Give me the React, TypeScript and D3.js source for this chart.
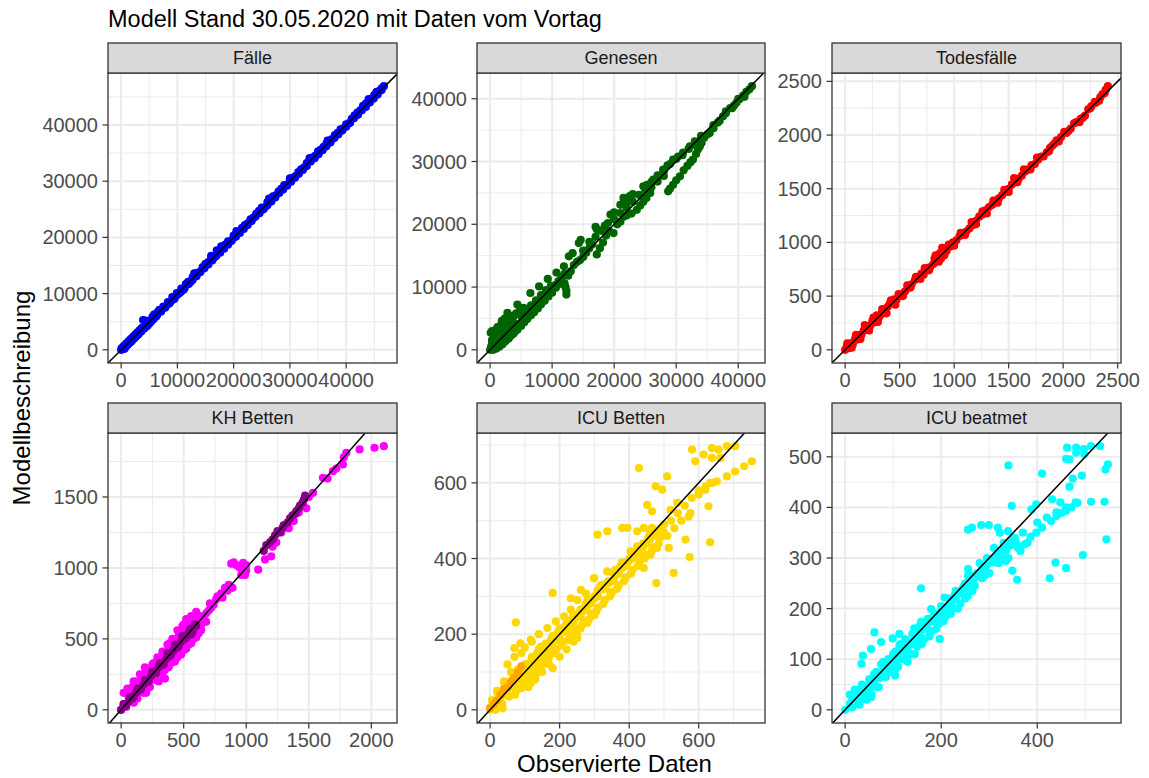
import React from 'react';
import * as d3 from 'd3';

// ---------- DATA ----------
const titleText = 'Modell Stand 30.05.2020 mit Daten vom Vortag';
const xAxisTitle = 'Observierte Daten';
const yAxisTitle = 'Modellbeschreibung';

const faelle: [number, number][] = [
  [0,0],[100,300],[300,100],[500,700],[700,400],[900,1100],[1100,800],[1300,1500],[1500,1200],[1700,1900],[1900,1600],[2100,2300],[2300,2000],[2500,2700],[2700,2400],[2900,3100],[3100,2800],[3300,3500],[3500,3200],[3700,3900],[3900,5300],[4200,5200],[4100,3800],[4400,4600],[4700,4300],[5000,5200],[5300,5000],[5600,5900],[5900,6300],[6200,5900],[6500,6700],[6800,7100],[7100,6800],[7500,7700],[7900,7600],[8300,8500],[8700,8400],[9100,9400],[9500,9100],[9900,10100],[10300,10000],[10700,10900],[11100,10700],[11500,11700],[11900,12100],[12300,12000],[12700,12900],[13100,13300],[13500,13700],[14000,13800],[14500,14700],[15000,15300],[15500,15600],[16000,16200],[16500,16400],[17000,17700],[17500,17400],[18000,18100],[18500,18700],[19000,19300],[19500,19300],[20000,20300],[20500,20800],[21000,21000],[21500,21700],[22000,22200],[22500,22500],[23000,23200],[23500,23500],[24000,24200],[24500,24700],[25000,25300],[25500,25300],[26000,26300],[26500,26400],[27000,27300],[27500,27500],[28000,28200],[28500,28700],[29000,29300],[29500,29400],[30000,30200],[30500,30600],[31000,30900],[31500,31600],[32000,32100],[32500,32400],[33000,33200],[33500,33700],[34000,34200],[34500,34500],[35000,35300],[35500,35600],[36000,36100],[36500,36700],[37000,37200],[37500,37500],[38000,38200],[38500,38600],[39000,39200],[39500,39400],[40000,40100],[40500,40300],[41000,41100],[41500,41700],[42000,42200],[42500,42600],[43000,43400],[43500,43800],[44000,44200],[44500,44700],[45000,45300],[45500,45700],[46000,46100],[46300,46500],[46700,46900],
  [600,200],[1200,1000],[1800,1500],[2400,2100],[3000,2700],[3600,3300],[4300,4000],[5000,4700],[5700,5400],[6400,6200],[7100,6900],[7800,7500],[8500,8200],[9200,8900],[9900,9700],[10600,10300],[11300,11000],[12000,11700],[12700,12400],[13400,13100],[14100,13900],[14800,14500],[15500,15200],[16200,15900],[16900,16700],[17600,17300],[18300,18000],[19000,18700],[19700,19500],[20400,20100],[21100,20800],[21800,21500],[22500,22200],[23200,22900],[23900,23700],[24600,24300],[25300,25000],[26000,25700],[26700,26400],[27400,27100],[28100,27900],[28800,28500],[29500,29200],[30200,29900],[30900,30600],[31600,31300],[32300,32000],[33000,32700],[33700,33500],[34400,34100],[35100,34800],[35800,35500],[36500,36200],[37200,36900],[37900,37700],[38600,38300],[39300,39000],[40000,39700],[40700,40400],[41400,41200],[42100,41800],[42800,42600],[43500,43200],[44200,44000],[44900,44700],[45600,45400],[46300,46200],
  [13000,13600],[16000,16700],[17800,18400],[20500,21100],[26300,26900],[30000,30500],[33500,34100],[36700,37200],[44000,44600],[45400,45900]
];

const genesen: [number, number][] = [
  [0,0],[200,400],[400,200],[600,900],[800,500],[1000,1300],[1200,800],[1400,1700],[1600,1100],[1800,2100],[2000,1500],[2200,2500],[2500,1900],[2800,2700],[3000,2300],[3300,3100],[3600,2800],[3900,3600],[4200,3300],[4500,4100],[4800,3900],[5200,4700],[5600,5000],[6000,5600],[6400,6000],[6800,6500],[7200,6900],[7600,7400],[8000,7800],[8500,8300],[9000,8800],[9500,9300],[10000,9700],
  [100,2700],[300,3000],[600,2600],[900,3200],[1200,3600],[1500,3000],[1800,4000],[2200,3700],[2600,4300],[2800,5900],[3200,5200],[3600,4700],[4200,5800],[4400,7200],[4800,6200],[5400,6700],[6500,9050],[7900,10100],[9300,11300],[10700,12300],[11900,13300],[12700,14900],[13300,15400],[14300,17000],[14600,17500],
  [500,0],[1000,200],[1500,500],[2000,900],[2500,1400],[3000,1800],[3500,2400],[4000,2900],
  [11500,11200],[12000,10600],[12150,10000],[12300,9400],[12300,8800],[12600,11800],[13000,12500],
  [10500,10300],[11000,10900],[11500,11600],[12000,12100],[13500,13500],[14000,14000],[14500,14300],[15000,14800],[15500,15500],[16000,16200],[16500,16800],
  [17200,19200],[17000,19600],[17800,19000],[18500,19800],[19400,21550],[20000,21900],[21000,23100],[21500,24200],[22000,23400],[22500,24500],[23000,24800],
  [17200,15200],[17700,16200],[18200,17100],[18700,18200],[19200,18900],[19900,18600],[20500,20000],[21000,20400],[21500,21200],[22000,21400],[22800,21700],[23650,22300],[24200,23000],[24700,23600],[25200,24200],[25800,25000],
  [24700,26050],[25300,26300],[26300,27100],[27000,27800],[27900,28700],[28600,29400],[29500,30300],[30300,30800],[31100,31400],[32200,32400],[33000,33200],[34000,34100],
  [28700,25250],[29000,25700],[29500,26300],[30000,27000],[30600,27650],[31200,28600],[31800,29300],[32300,29900],[32700,30300],[33200,31200],[33500,31900],[33800,32400],[34100,33000],
  [26000,25900],[27000,26800],[28000,27700],
  [34500,33800],[35400,34560],[36000,35300],[36700,36200],[37550,37200],[38000,37700],[38700,38500],[39300,38900],[39700,39350],[40200,39900],[40800,40500],[41300,41100],[41800,41500],[42200,42000],
  [300,1500],[700,2000],[1100,2300],[1500,2600],[2000,3000],[2400,3300],[3000,3800],[3400,4200],[400,1000],[900,1600],[1300,2000],[200,600],[700,300],[1100,600],[1700,900],[2300,1300],[2700,1700],[3300,2200],[3800,2600],[4400,3200],[5000,3800],[5500,4400],[6000,4900],[6600,5500],[7100,6000],[7700,6600],[8200,7200],[8800,7800],[9400,8500],[10000,9100],[10600,9900],[11200,10500],[5000,5400],[5800,6300],[6600,7100],[7400,7900],[8200,8700],[9000,9500],[9800,10200],[3100,4900],[3800,5400],[5000,6500],[1900,4600],[2400,5000],
  [15000,15800],[16000,17200],[17000,18000],[18000,19000],[19000,20200],[20000,20800],[21000,21800],[22000,22600],[23000,23600],[24000,24700],[25000,25500],[26000,26700],[27000,27400],[28000,28500],[29000,29600],[30000,30400],[31000,31000],[32000,32000],[33000,32700],[34000,33600],[35000,34300],[36000,35800],[37000,36500],[38000,38000],[39000,38500],[40000,40000],[41000,40300]
];

const todesfaelle: [number, number][] = [
  [0,0],[15,30],[30,15],[50,60],[70,50],[90,100],[110,95],[130,140],[150,140],[170,180],[190,185],[210,220],[230,225],[250,270],[270,255],[290,320],[310,300],[330,330],[350,360],[370,365],[390,400],[410,430],[430,440],[450,470],[470,465],[500,500],[520,520],[550,545],[580,580],[610,610],[640,650],[670,680],[700,710],[720,700],[750,760],[780,770],[810,800],[830,880],[850,840],[870,900],[880,850],[900,900],[930,920],[960,960],[990,1000],[1020,1020],[1050,1060],[1080,1080],[1110,1100],[1140,1130],[1170,1160],[1200,1200],[1230,1240],[1260,1260],[1290,1300],[1320,1330],[1350,1350],[1380,1390],[1410,1410],[1440,1440],[1470,1470],[1500,1500],[1530,1540],[1560,1590],[1590,1590],[1620,1620],[1650,1660],[1680,1680],[1710,1720],[1740,1730],[1770,1770],[1800,1800],[1850,1840],[1880,1880],[1900,1900],[1940,1950],[1980,1980],[2030,2020],[2070,2060],[2120,2120],[2160,2150],[2200,2180],[2230,2240],[2260,2270],[2300,2300],[2330,2320],[2360,2380],[2390,2420],[2410,2455],
  [20,60],[60,20],[100,140],[140,100],[180,230],[220,180],[260,300],[300,260],[340,380],[380,340],[420,460],[460,420],[490,520],[530,500],[570,600],[600,580],[650,680],[690,660],[730,760],[770,740],[820,850],[860,820],[890,950],[910,880],[950,980],[1000,970],[1060,1090],[1100,1070],[1160,1190],[1200,1170],[1260,1290],[1300,1270],[1360,1390],[1400,1370],[1460,1490],[1500,1470],[1550,1600],[1580,1560],[1640,1680],[1700,1680],[1760,1790],[1820,1800],[1870,1850],[1920,1920],[1960,1940],[2010,2030],[2050,2040],[2100,2110],[2150,2120],[2180,2160],[2250,2250],[2290,2310],[2340,2350],[2380,2390]
];

const khBetten: [number, number][] = [
  [0,0],[20,40],[40,20],[60,90],[80,60],[100,130],[120,100],[140,170],[160,130],[180,210],[200,170],[220,260],[240,210],[250,290],[270,240],[290,310],[310,270],[330,340],[350,300],[360,380],[380,330],[390,470],[400,410],[420,360],[440,480],[450,400],[470,540],[480,440],[500,560],[510,460],[530,530],[550,590],[560,510],[580,610],[600,550],[610,640],[620,580],[630,660],[650,620],[680,680],[710,750],[740,740],[760,780],[800,820],[830,860],[850,840],[880,1030],[900,1040],[920,1020],[950,1000],[975,1035],[960,950],[990,950],[1000,980],[1095,988],[1150,1060],[1200,1082],[1210,1150],[1240,1180],[1280,1250],[1300,1300],[1340,1280],[1380,1330],[1420,1390],[1450,1450],[1480,1420],[1500,1500],[1534,1529],[1613,1635],[1650,1630],[1693,1682],[1720,1700],[1773,1729],[1780,1780],[1800,1811],[1906,1835],[2025,1847],[2100,1858],
  [20,120],[50,150],[100,200],[150,250],[190,300],[100,50],[200,120],[300,200],[350,220],
  [150,200],[200,250],[250,320],[300,350],[340,400],[380,440],[420,460],[460,520],[500,600],[540,620],[570,640],[300,240],[350,280],[400,330],[450,370],[500,420],[540,460],[580,500],[620,540],[640,600],[660,640],[700,700],[720,720],[770,800],[810,790],[860,880],[890,860],[940,1010],[1000,1020],
  [60,120],[90,160],[130,200],[170,250],[210,290],[260,330],[290,370],[330,410],[370,460],[410,500],[450,560],[490,590],[520,640],[560,660],[600,690],[130,80],[180,120],[230,160],[280,210],[330,250],[380,300],[430,340],[480,390],[520,430],[560,470],[600,510],[640,560],[680,620]
];
const khBettenB: [number, number][] = [
  [0,0],[30,30],[60,60],[90,80],[120,120],[150,140],[180,180],[210,200],[240,240],[270,260],[300,300],[330,320],[360,360],[390,380],[420,420],[450,440],[480,480],[510,500],[540,540],[560,530],[580,580],[600,590],[1140,1120],[1190,1180],[1230,1230],[1270,1250],[1300,1300],[1330,1320],[1370,1370],[1400,1400],[1430,1440],[1460,1480],[1470,1510],
  [20,40],[40,30],[70,90],[100,90],[130,150],[160,150],[190,210],[220,200],[250,270],[280,260],[310,330],[340,320],[370,400],[400,390],[430,460],[460,450],[490,520],[520,510],[550,570],[570,550],[590,600],[1160,1160],[1210,1200],[1250,1260],[1290,1280],[1350,1350],[1390,1380],[1420,1420],[1450,1460]
];

const icuBetten: [number, number][] = [
  [0,0],[10,8],[20,20],[30,25],[40,40],[50,42],[60,60],[70,65],[80,80],[90,85],[100,100],[110,102],[120,118],[130,122],[140,138],[150,142],[160,155],[170,165],[180,172],[190,185],[200,190],[210,205],[220,210],[230,222],[240,230],[250,245],[260,250],[270,262],[280,275],[290,282],[300,295],[310,300],[320,318],[330,320],[340,335],[350,340],[360,355],[370,360],[380,375],[390,380],[400,395],[410,400],[420,410],[430,420],[440,430],[450,440],[460,450],[470,460],[480,470],[490,480],[500,490],
  [581,688],[590,657],[614,675],[638,692],[657,688],[638,666],[662,666],[681,697],[705,697],[753,657],[731,644],[705,630],[681,617],[652,604],[633,600],[619,582],[600,569],[628,538],[576,520],[571,511],[633,443],[574,404],[528,362],[478,335],[562,450],[519,529],[538,547],[509,617],[495,582],[476,591],[452,542],[466,525],[428,639],
  [309,463],[337,472],[380,481],[395,481],[423,472],[442,481],[466,481],[495,458],[514,428],[480,428],[461,410],[442,405],[423,432],[404,419],[442,375],[385,379],[366,370],[337,366],[299,348],[356,341],[328,324],[309,315],[347,311],[276,307],[261,317],[232,295],[251,290],[180,309],
  [270,269],[232,265],[213,247],[189,234],[165,216],[251,190],[232,206],[210,215],[195,200],[74,231],[87,176],[70,163],[117,185],[146,167],[165,150],[136,141],[108,115],[80,106],[89,57],[72,40],[36,4],[5,26],[22,44],[41,71],[117,71],[136,97],[160,130],[180,150],[150,120],
  [100,120],[110,85],[120,140],[130,105],[140,160],[150,125],[160,175],[170,140],[180,195],[190,160],[200,215],[210,180],[220,230],[230,195],[240,250],[250,215],[260,265],[270,235],[280,290],[290,255],[300,300],[310,270],[320,330],[330,290],[340,340],[350,310],[360,370],[370,330],[380,390],[390,350],[400,400],[410,370],[420,420],[430,390],[440,440],[450,410],[460,470],[470,430],[480,460],[500,470],[520,500],[540,520],[560,540],[580,560],[600,580],[620,590],[640,600],
  [5,10],[15,0],[25,40],[35,15],[45,60],[55,35],[65,80],[75,50],[85,95],[95,70],[20,50],[40,75],[60,100],[50,120],[70,140],[90,150],[100,165],[120,180],[140,200],[110,60],[130,80],[150,100],[170,120],[180,110],[200,140],[220,160],[240,180],[250,200],[260,215],[280,230],[300,250],
  [105,110],[115,125],[125,100],[135,150],[145,115],[155,165],[165,130],[175,185],[185,150],[195,205],[205,170],[215,220],[225,185],[235,240],[245,205],[255,255],[265,225],[275,280],[285,240],[295,290],[305,260],[315,325],[325,280],[335,335],[345,300],[355,360],[365,320],[375,380],[385,340],[395,390],[405,360],[415,410],[425,380],[435,430],[445,400],[455,455],[465,420],[475,470],[485,440],[495,480],[510,460],[530,480],[550,500]
];
const icuBettenB: [number, number][] = [
  [0,5],[10,15],[20,25],[30,40],[40,55],[50,60],[60,75],[70,85],[80,100],[90,115]
];

const icuBeatmet: [number, number][] = [
  [0,0],[10,12],[20,15],[25,30],[35,28],[45,45],[50,38],[60,58],[70,62],[80,78],[90,82],[100,98],[110,100],[120,118],[130,120],[140,135],[150,140],[160,158],[170,160],[180,175],[190,180],[200,195],[210,198],[220,215],[230,218],[240,230],[250,240],[260,255],[270,262],[280,270],[290,280],[300,290],[310,300],[320,310],[330,320],[340,330],[350,335],
  [462,518],[481,518],[481,508],[497,515],[498,505],[512,521],[531,521],[460,496],[467,495],[547,485],[542,475],[340,483],[410,467],[493,463],[474,457],[467,441],[347,403],[398,406],[388,396],[431,416],[448,410],[512,411],[540,411],[484,409],[471,400],[460,393],[450,389],[440,383],[429,373],[410,360],[398,350],[386,342],[374,327],[360,324],[353,340],[365,314],[256,356],[264,360],[283,365],[299,365],[318,360],[322,350],[339,353],[544,337],[495,306],[438,291],[460,280],[426,260],[348,275],[358,257],[335,294],[325,307],[311,291],[294,285],[276,268],[256,278],[256,265],[266,252],[248,246],[238,232],[228,226],[207,222],[221,209],[204,201],[179,199],[189,188],[197,140],[158,240],[172,180],[158,174],[144,161],
  [61,153],[75,134],[54,120],[37,107],[34,91],[113,150],[99,141],[113,127],[131,107],[104,68],[85,87],[67,73],[54,54],[54,25],[30,14],
  [10,30],[15,5],[20,40],[30,10],[35,50],[40,25],[50,60],[55,30],[65,75],[70,45],[75,90],[85,65],[90,100],[95,75],[105,115],[110,85],[115,130],[120,100],[125,140],[135,110],[140,150],[150,125],[155,165],[165,140],[170,175],[180,155],[185,190],[195,170],[200,205],[210,185],[215,220],[225,200],[230,235],[240,210],[250,250],[255,225],[265,265],[270,245],[280,290],[285,260],[295,300],[300,270],[310,320],[320,290],[330,330],[340,300],[350,340],[360,320],[370,350],[380,330],[400,370],[420,380],[440,390],[460,400],[480,410],
  [15,20],[25,15],[30,40],[40,35],[45,20],[55,50],[60,70],[65,45],[75,65],[80,95],[85,75],[95,90],[100,110],[105,80],[115,105],[125,125],[130,95],[140,130],[145,110],[155,150],[160,130],[170,165],[175,145],[185,175],[190,160],[200,190],[205,175],[215,205],[220,190],[230,225],[235,200],[245,240],[250,220],[260,250],[265,235],[275,270],[285,280],[290,265],[305,295],[315,305],[325,300],[335,315],[345,325],[355,330]
];

const faelleTicks = [0, 10000, 20000, 30000, 40000];
const todesTicks = [0, 500, 1000, 1500, 2000, 2500];
const khXTicks = [0, 500, 1000, 1500, 2000];
const khYTicks = [0, 500, 1000, 1500];
const icuTicks = [0, 200, 400, 600];
const beatXTicks = [0, 200, 400];
const beatYTicks = [0, 100, 200, 300, 400, 500];

// ---------- LAYOUT ----------
const FONT = "'Liberation Sans', Arial, Helvetica, sans-serif";
const colLeft = [108, 477, 832];
const colRight = [397, 765, 1121];
const rowTop = [43, 403];
const stripH = 30;
const panelH = 290;

type Series = { data: [number, number][]; color: string };
type Panel = { name: string; col: number; row: number; series: Series[]; xTicks: number[]; yTicks: number[] };

const panels: Panel[] = [
  { name: 'Fälle', col: 0, row: 0, series: [{ data: faelle, color: '#0000FF' }], xTicks: faelleTicks, yTicks: faelleTicks },
  { name: 'Genesen', col: 1, row: 0, series: [{ data: genesen, color: '#006400' }], xTicks: faelleTicks, yTicks: faelleTicks },
  { name: 'Todesfälle', col: 2, row: 0, series: [{ data: todesfaelle, color: '#FF0000' }], xTicks: todesTicks, yTicks: todesTicks },
  { name: 'KH Betten', col: 0, row: 1, series: [{ data: khBetten, color: '#FF00FF' }, { data: khBettenB, color: '#8B008B' }], xTicks: khXTicks, yTicks: khYTicks },
  { name: 'ICU Betten', col: 1, row: 1, series: [{ data: icuBetten, color: '#FFD700' }, { data: icuBettenB, color: '#FFA500' }], xTicks: icuTicks, yTicks: icuTicks },
  { name: 'ICU beatmet', col: 2, row: 1, series: [{ data: icuBeatmet, color: '#00FFFF' }], xTicks: beatXTicks, yTicks: beatYTicks },
];

function expandDomain(vals: number[]): [number, number] {
  const [lo, hi] = d3.extent(vals) as [number, number];
  const pad = (hi - lo) * 0.05;
  return [lo - pad, hi + pad];
}

function minorBreaks(ticks: number[], domain: [number, number]) {
  const step = ticks[1] - ticks[0];
  const res: number[] = [];
  for (let i = -1; i < ticks.length; i++) {
    const v = ticks[0] + step * i + step / 2;
    if (v >= domain[0] && v <= domain[1]) res.push(v);
  }
  return res;
}

function PanelView({ p }: { p: Panel }) {
  const left = colLeft[p.col];
  const right = colRight[p.col];
  const sTop = rowTop[p.row];
  const top = sTop + stripH;
  const bottom = top + panelH;
  const all = p.series.flatMap((s) => s.data);
  const xd = expandDomain(all.map((d) => d[0]));
  const yd = expandDomain(all.map((d) => d[1]));
  const x = d3.scaleLinear().domain(xd).range([left, right]);
  const y = d3.scaleLinear().domain(yd).range([bottom, top]);
  const xMinor = minorBreaks(p.xTicks, xd);
  const yMinor = minorBreaks(p.yTicks, yd);
  const xMajor = p.xTicks.filter((t) => t >= xd[0] && t <= xd[1]);
  const yMajor = p.yTicks.filter((t) => t >= yd[0] && t <= yd[1]);
  const clipId = `clip-${p.col}-${p.row}`;
  const lo = Math.min(xd[0], yd[0]);
  const hi = Math.max(xd[1], yd[1]);
  const tickLen = 5.5;
  return (
    <g>
      <defs>
        <clipPath id={clipId}>
          <rect x={left} y={top} width={right - left} height={bottom - top} />
        </clipPath>
      </defs>
      <rect x={left} y={top} width={right - left} height={bottom - top} fill="#FFFFFF" />
      {xMinor.map((v) => (
        <line key={'xm' + v} x1={x(v)} x2={x(v)} y1={top} y2={bottom} stroke="#EBEBEB" strokeWidth={1} />
      ))}
      {yMinor.map((v) => (
        <line key={'ym' + v} x1={left} x2={right} y1={y(v)} y2={y(v)} stroke="#EBEBEB" strokeWidth={1} />
      ))}
      {xMajor.map((v) => (
        <line key={'xM' + v} x1={x(v)} x2={x(v)} y1={top} y2={bottom} stroke="#EBEBEB" strokeWidth={2} />
      ))}
      {yMajor.map((v) => (
        <line key={'yM' + v} x1={left} x2={right} y1={y(v)} y2={y(v)} stroke="#EBEBEB" strokeWidth={2} />
      ))}
      <g clipPath={`url(#${clipId})`}>
        {p.series.map((s, si) =>
          s.data.map((d, i) => (
            <circle key={si + '-' + i} cx={x(d[0])} cy={y(d[1])} r={4.1} fill={s.color} />
          ))
        )}
        <line x1={x(lo)} y1={y(lo)} x2={x(hi)} y2={y(hi)} stroke="#000000" strokeWidth={1.5} />
      </g>
      <rect x={left} y={top} width={right - left} height={bottom - top} fill="none" stroke="#333333" strokeWidth={1.3} />
      <rect x={left} y={sTop} width={right - left} height={stripH} fill="#D9D9D9" stroke="#333333" strokeWidth={1.3} />
      <text x={(left + right) / 2} y={sTop + stripH / 2} dy="0.35em" textAnchor="middle" fontSize={18} fill="#1A1A1A" fontFamily={FONT}>
        {p.name}
      </text>
      {xMajor.map((v) => (
        <g key={'xt' + v}>
          <line x1={x(v)} x2={x(v)} y1={bottom} y2={bottom + tickLen} stroke="#333333" strokeWidth={1.2} />
          <text x={x(v)} y={bottom + 24} textAnchor="middle" fontSize={20} fill="#4D4D4D" fontFamily={FONT}>
            {v}
          </text>
        </g>
      ))}
      {yMajor.map((v) => (
        <g key={'yt' + v}>
          <line x1={left - tickLen} x2={left} y1={y(v)} y2={y(v)} stroke="#333333" strokeWidth={1.2} />
          <text x={left - tickLen - 4.5} y={y(v)} dy="0.35em" textAnchor="end" fontSize={20} fill="#4D4D4D" fontFamily={FONT}>
            {v}
          </text>
        </g>
      ))}
    </g>
  );
}

export default function App() {
  return (
    <svg
      width={1149}
      height={778}
      style={{ position: 'absolute', left: 0, top: 0, background: '#FFFFFF' }}
      xmlns="http://www.w3.org/2000/svg"
    >
      <rect x={0} y={0} width={1149} height={778} fill="#FFFFFF" />
      <text x={108} y={27} fontSize={23.5} fill="#000000" fontFamily={FONT}>
        {titleText}
      </text>
      {panels.map((p) => (
        <PanelView key={p.name} p={p} />
      ))}
      <text x={614.5} y={772} textAnchor="middle" fontSize={24} fill="#000000" fontFamily={FONT}>
        {xAxisTitle}
      </text>
      <text transform="translate(30,398) rotate(-90)" textAnchor="middle" fontSize={24} fill="#000000" fontFamily={FONT}>
        {yAxisTitle}
      </text>
    </svg>
  );
}
